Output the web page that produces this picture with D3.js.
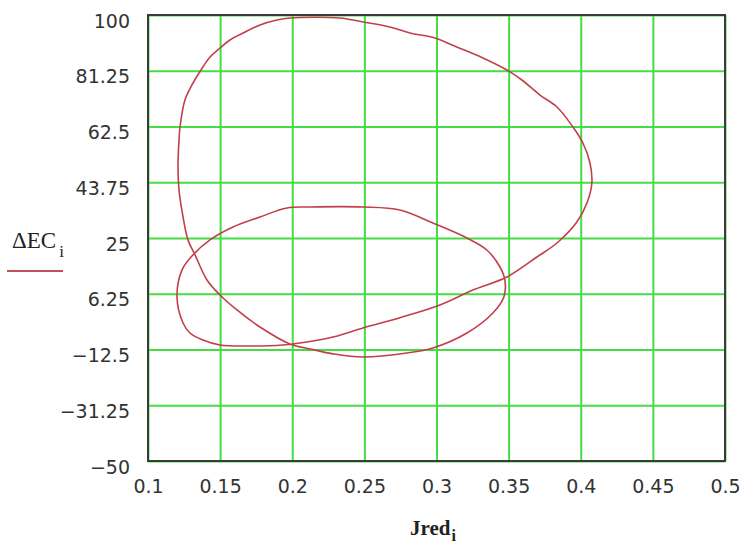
<!DOCTYPE html>
<html>
<head>
<meta charset="utf-8">
<script src="https://cdn.jsdelivr.net/npm/d3@7/dist/d3.min.js"></script>
<style>
  html, body { margin: 0; padding: 0; background: #fff; }
  svg { display: block; }
</style>
</head>
<body>
<div id="chart"></div>
<script>
// ---- data ----
const xTicks = [0.1, 0.15, 0.2, 0.25, 0.3, 0.35, 0.4, 0.45, 0.5];
const xTickLabels = ["0.1", "0.15", "0.2", "0.25", "0.3", "0.35", "0.4", "0.45", "0.5"];
const yTicks = [100, 81.25, 62.5, 43.75, 25, 6.25, -12.5, -31.25, -50];
const yTickLabels = ["100", "81.25", "62.5", "43.75", "25", "6.25", "\u221212.5", "\u221231.25", "\u221250"];
const Jred = [
  0.1984, 0.2331, 0.2490, 0.2677, 0.2816, 0.2989, 0.3141, 0.3322, 0.3488, 0.3592,
  0.3717, 0.3835, 0.3946, 0.4015, 0.4064, 0.4077, 0.4043, 0.3973, 0.3835, 0.3696,
  0.3488, 0.3252, 0.3024, 0.2746, 0.2490, 0.2282, 0.2053, 0.1936, 0.1707, 0.1499,
  0.1381, 0.1291, 0.1243, 0.1201, 0.1236, 0.1312, 0.1430, 0.1589, 0.1776, 0.1963,
  0.2123, 0.2490, 0.2746, 0.2975, 0.3211, 0.3349, 0.3440, 0.3474, 0.3467, 0.3391,
  0.3211, 0.2975, 0.2795, 0.2490, 0.2282, 0.2123, 0.1984, 0.1776, 0.1617, 0.1499,
  0.1409, 0.1326, 0.1277, 0.1243, 0.1215, 0.1208, 0.1215, 0.1222, 0.1256, 0.1312,
  0.1381, 0.1430, 0.1499, 0.1568, 0.1659, 0.1776, 0.1894, 0.1984
];
const dEC = [
  98.99, 99.00, 97.65, 95.96, 93.95, 92.26, 89.24, 85.54, 81.50, 78.14,
  73.09, 69.06, 62.33, 56.95, 50.23, 43.50, 36.77, 30.38, 23.32, 18.61,
  11.88, 7.51, 2.47, -1.81, -5.27, -8.30, -10.32, -10.99, -11.33, -10.99,
  -9.31, -6.95, -3.59, 5.16, 14.26, 19.33, 24.37, 28.70, 32.06, 35.09,
  35.42, 35.42, 34.42, 30.05, 25.00, 20.97, 15.25, 10.88, 5.16, -0.22,
  -6.95, -11.99, -13.68, -15.02, -13.96, -12.33, -10.65, -4.93, 0.79, 5.84,
  10.88, 19.33, 24.37, 32.06, 41.14, 49.55, 57.96, 62.33, 71.41, 77.13,
  82.52, 85.87, 88.90, 91.60, 93.95, 96.64, 98.32, 98.99
];

// ---- layout ----
const W = 743, H = 544;
const L = 148, R = 725, T = 15, B = 461;

const svg = d3.select("#chart").append("svg")
  .attr("width", W).attr("height", H);

const x = d3.scaleLinear().domain([0.1, 0.5]).range([L, R]);
const y = d3.scaleLinear().domain([-50, 100]).range([B, T]);

const gridColor = "#44dd44";
const tickFont = "'DejaVu Sans', Verdana, sans-serif";

// grid + x labels
const gx = svg.append("g")
  .attr("transform", `translate(0,${B})`)
  .call(d3.axisBottom(x).tickValues(xTicks)
    .tickFormat((d, i) => xTickLabels[i])
    .tickSize(-(B - T)).tickPadding(0));
gx.select(".domain").remove();
gx.selectAll(".tick line").attr("stroke", gridColor).attr("stroke-width", 2);
gx.selectAll(".tick text")
  .attr("y", 32).attr("dy", null)
  .attr("fill", "#333")
  .style("font-family", tickFont)
  .style("font-size", "19px");

const gy = svg.append("g")
  .attr("transform", `translate(${L},0)`)
  .call(d3.axisLeft(y).tickValues(yTicks)
    .tickFormat((d, i) => yTickLabels[i])
    .tickSize(-(R - L)).tickPadding(18));
gy.select(".domain").remove();
gy.selectAll(".tick line").attr("stroke", gridColor).attr("stroke-width", 2);
gy.selectAll(".tick text")
  .attr("dy", null).attr("y", 12)
  .attr("fill", "#333")
  .style("font-family", tickFont)
  .style("font-size", "19px");

// curve
const line = d3.line().x((d, i) => x(Jred[i])).y((d, i) => y(dEC[i]))
  .curve(d3.curveCatmullRomClosed.alpha(0.5));
svg.append("path")
  .datum(Jred.slice(0, Jred.length - 1))
  .attr("d", line)
  .attr("fill", "none")
  .attr("stroke", "#c0404a")
  .attr("stroke-width", 1.6);

// frame
svg.append("rect")
  .attr("x", L).attr("y", T).attr("width", R - L).attr("height", B - T)
  .attr("fill", "none").attr("stroke", "#3a3a3a").attr("stroke-width", 2);

// legend label (y axis)
const leg = svg.append("text")
  .attr("x", 12).attr("y", 248)
  .attr("fill", "#222")
  .style("font-family", "'Liberation Serif', 'Times New Roman', serif")
  .style("font-size", "23px");
leg.append("tspan").text("\u0394EC");
leg.append("tspan").attr("dx", 3).attr("dy", 9).style("font-size", "17px").text("i");
svg.append("line")
  .attr("x1", 7).attr("x2", 63).attr("y1", 271).attr("y2", 271)
  .attr("stroke", "#c0505a").attr("stroke-width", 2);

// x title
const xt = svg.append("text")
  .attr("x", 410).attr("y", 535)
  .attr("fill", "#222")
  .style("font-family", "'Liberation Serif', 'Times New Roman', serif")
  .style("font-weight", "bold")
  .style("font-size", "21px");
xt.append("tspan").text("Jred");
xt.append("tspan").attr("dx", 1).attr("dy", 6).style("font-size", "16px").text("i");
</script>
</body>
</html>
